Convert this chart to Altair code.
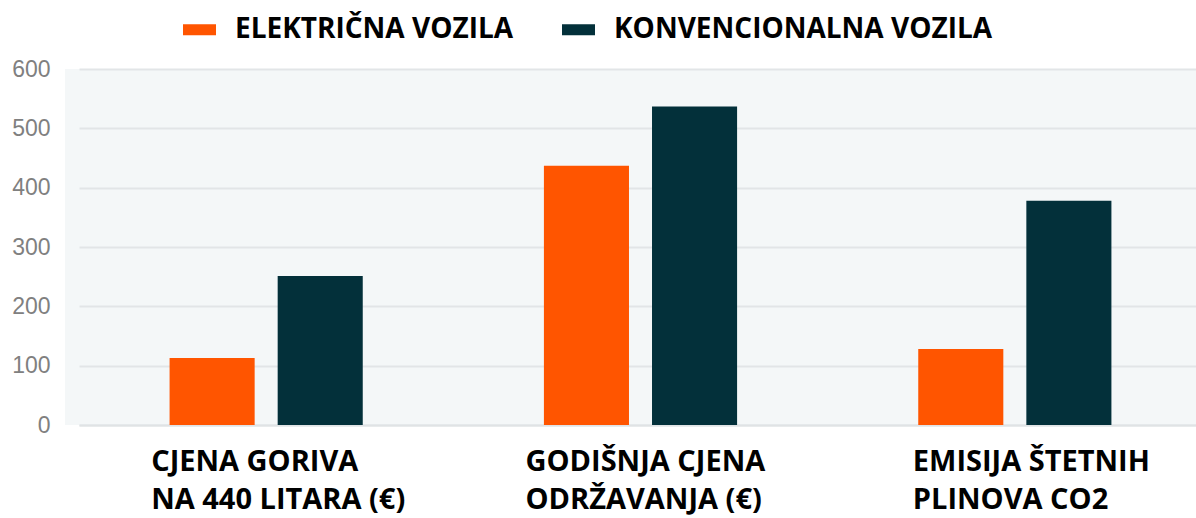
import altair as alt
import pandas as pd

categories = ["CJENA GORIVA|NA 440 LITARA (€)", "GODIŠNJA CJENA|ODRŽAVANJA (€)", "EMISIJA ŠTETNIH|PLINOVA CO2"]
series = ["ELEKTRIČNA VOZILA", "KONVENCIONALNA VOZILA"]
electric = [113, 437, 128]
conventional = [251, 537, 378]
y_ticks = [0, 100, 200, 300, 400, 500, 600]
colors = ["#ff5500", "#03303a"]

rows = []
for c, e, v in zip(categories, electric, conventional):
    rows.append({"cat": c, "series": series[0], "value": e})
    rows.append({"cat": c, "series": series[1], "value": v})
df = pd.DataFrame(rows)

chart = alt.Chart(df).mark_bar().encode(
    x=alt.X("cat:N", sort=categories, title=None,
            scale=alt.Scale(range=[14, 1137], paddingInner=0, paddingOuter=0),
            axis=alt.Axis(labelExpr="split(datum.label, '|')", labelAlign="left",
                          labelOffset={"condition": {"test": "test(/EMISIJA/, datum.value)", "value": -102}, "value": -115},
                          labelBaseline="top", labelFont="Open Sans", labelFontSize=29,
                          labelFontWeight="bold", labelColor="#000000", labelLineHeight=38,
                          labelPadding=22, labelLimit=0, ticks=False, grid=False,
                          domainColor="#e0e3e5", domainWidth=2, labelAngle=0)),
    xOffset=alt.XOffset("series:N", sort=series,
                        scale=alt.Scale(paddingInner=0.213, paddingOuter=0.838)),
    y=alt.Y("value:Q", title=None, scale=alt.Scale(domain=[0, 600], nice=False),
            axis=alt.Axis(values=y_ticks, grid=True, gridColor="#e2e5e7", gridWidth=2,
                          domain=False, ticks=False, labelColor="#808080",
                          labelFont="Liberation Sans", labelFontSize=23, labelPadding=15)),
    color=alt.Color("series:N", sort=series, scale=alt.Scale(domain=series, range=colors),
                    legend=alt.Legend(title=None, orient="none", legendX=118, legendY=-56,
                                      direction="horizontal",
                                      symbolType="M-1,-0.33H1V0.33H-1Z", symbolSize=1089,
                                      symbolStrokeWidth=0,
                                      labelFont="Open Sans", labelFontSize=28,
                                      labelFontWeight="bold", labelColor="#000000",
                                      labelOffset=19, columnPadding=48, labelLimit=0)),
).properties(
    width=1131, height=356,
    padding={"left": 65, "top": 69, "right": 0, "bottom": 93},
    autosize=alt.AutoSizeParams(type="none"),
).configure_view(fill="#f4f7f8", stroke=None)

chart.save("out.html", embed_options={"renderer": "svg", "actions": False})
